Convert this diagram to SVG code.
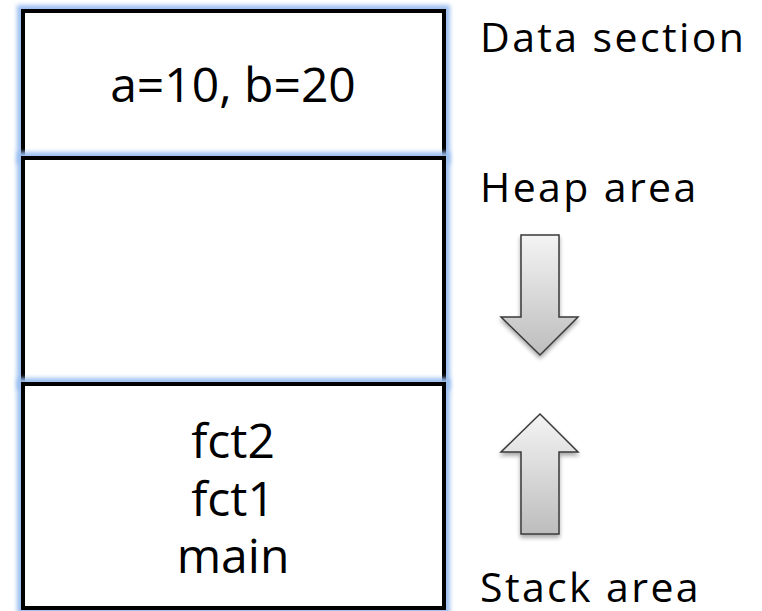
<svg xmlns="http://www.w3.org/2000/svg" width="762" height="611" viewBox="0 0 762 611">
<style>
.lbl{font-family:"Open Sans","Noto Sans",sans-serif;font-size:41px;letter-spacing:2.4px;fill:#000}
.inner{font-family:"Open Sans","Noto Sans",sans-serif;font-size:48px;fill:#000;text-anchor:middle}
.box{fill:#fff;stroke:#000;stroke-width:4}
.glow{fill:none;stroke:#9cc0f0;stroke-width:12;filter:url(#blur)}
.arr{fill:url(#g);stroke:#3a3a3a;stroke-width:1.5;filter:url(#sh)}
</style>
<defs>
<filter id="blur" x="-10%" y="-10%" width="120%" height="120%"><feGaussianBlur stdDeviation="2.2"/></filter>
<filter id="sh" x="-30%" y="-20%" width="160%" height="150%"><feDropShadow dx="0" dy="3" stdDeviation="2" flood-color="#000" flood-opacity="0.35"/></filter>
<linearGradient id="g" x1="0" y1="0" x2="0" y2="1"><stop offset="0" stop-color="#f4f4f4"/><stop offset="1" stop-color="#bdbdbd"/></linearGradient>
</defs>
<g id="data">
<rect class="glow" x="23" y="11" width="421" height="147"/>
<rect class="box" x="23" y="11" width="421" height="147"/>
<text class="inner" x="233" y="102">a=10, b=20</text>
</g>
<g id="heap">
<rect class="glow" x="23" y="158" width="421" height="226"/>
<rect class="box" x="23" y="158" width="421" height="226"/>
</g>
<g id="stack">
<rect class="glow" x="23" y="384" width="421" height="224"/>
<rect class="box" x="23" y="384" width="421" height="224"/>
<text class="inner" x="233" y="458">fct2</text>
<text class="inner" x="233" y="516">fct1</text>
<text class="inner" x="233" y="573">main</text>
</g>
<g id="labels">
<text class="lbl" x="480" y="52">Data section</text>
<text class="lbl" x="480" y="202">Heap area</text>
<text class="lbl" x="480" y="602">Stack area</text>
</g>
<g id="connectors">
<path class="arr" d="M521,235 H559 V317 H578 L540,355 L501,317 H521 Z"/>
<path class="arr" d="M521,534 H559 V452 H578 L540,414 L501,452 H521 Z"/>
</g>
</svg>
